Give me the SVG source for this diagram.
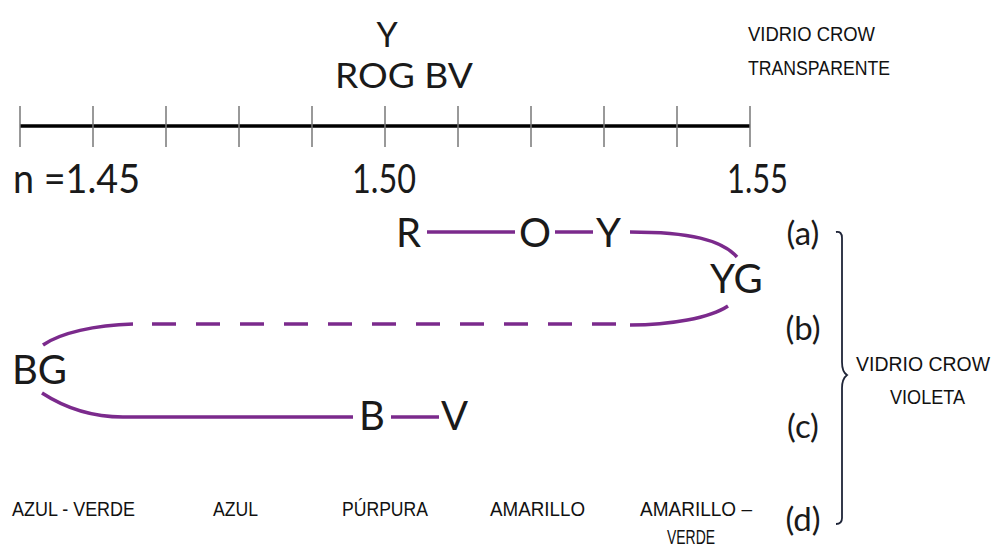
<svg xmlns="http://www.w3.org/2000/svg" width="992" height="548" viewBox="0 0 992 548">
<style>
.g{font-family:Lato,"Open Sans","DejaVu Sans",sans-serif;fill:#1a1a1a}
.c{font-family:"Liberation Sans",Arial,sans-serif;fill:#111;font-size:20px}
.tick{stroke:#777;stroke-width:1.5}
.conn{stroke:#7b2a8c;stroke-width:3.5;fill:none}
.br{stroke:#1f2538;stroke-width:1.8;fill:none}
</style>
<rect width="992" height="548" fill="#fff"/>
<g id="axis">
<line x1="20" y1="126" x2="750" y2="126" stroke="#000" stroke-width="3.5"/>
<g class="tick">
<line x1="20" y1="106" x2="20" y2="147"/><line x1="93" y1="106" x2="93" y2="147"/>
<line x1="166" y1="106" x2="166" y2="147"/><line x1="239" y1="106" x2="239" y2="147"/>
<line x1="312" y1="106" x2="312" y2="147"/><line x1="385" y1="106" x2="385" y2="147"/>
<line x1="458" y1="106" x2="458" y2="147"/><line x1="531" y1="106" x2="531" y2="147"/>
<line x1="604" y1="106" x2="604" y2="147"/><line x1="677" y1="106" x2="677" y2="147"/>
<line x1="750" y1="106" x2="750" y2="147"/>
</g>
<text class="g" x="13" y="193" font-size="40" textLength="127" lengthAdjust="spacingAndGlyphs">n =1.45</text>
<text class="g" x="352" y="193" font-size="40" textLength="64" lengthAdjust="spacingAndGlyphs">1.50</text>
<text class="g" x="727" y="193" font-size="40" textLength="61" lengthAdjust="spacingAndGlyphs">1.55</text>
<text class="g" x="387" y="47" font-size="34" text-anchor="middle">Y</text>
<text class="g" x="335" y="88" font-size="34" textLength="138" lengthAdjust="spacingAndGlyphs">ROG BV</text>
</g>
<g id="title-transparente">
<text class="c" x="748" y="41" textLength="127" lengthAdjust="spacingAndGlyphs">VIDRIO CROW</text>
<text class="c" x="748" y="75" textLength="142" lengthAdjust="spacingAndGlyphs">TRANSPARENTE</text>
</g>
<g id="connectors">
<line class="conn" x1="427" y1="232" x2="515" y2="232"/>
<line class="conn" x1="555" y1="232" x2="593" y2="232"/>
<path class="conn" d="M630,232 C690,232 722,240 737,257"/>
<path class="conn" d="M728,306 C710,318 670,325 630,325"/>
<line class="conn" x1="152" y1="324" x2="620" y2="324" stroke-dasharray="24 20"/>
<path class="conn" d="M133,324 C95,325 60,333 43,345"/>
<path class="conn" d="M42,393 C62,406 90,417 123,417 L353,417"/>
<line class="conn" x1="391" y1="417" x2="439" y2="417"/>
</g>
<g id="node-R"><text class="g" x="396" y="247" font-size="40">R</text></g>
<g id="node-O"><text class="g" x="519" y="247" font-size="40">O</text></g>
<g id="node-Y"><text class="g" x="596" y="247" font-size="40">Y</text></g>
<g id="node-YG"><text class="g" x="710" y="293" font-size="40">YG</text></g>
<g id="node-BG"><text class="g" x="12" y="384" font-size="40">BG</text></g>
<g id="node-B"><text class="g" x="359" y="430" font-size="40">B</text></g>
<g id="node-V"><text class="g" x="441" y="430" font-size="40">V</text></g>
<g id="labels-abcd">
<text class="g" x="803" y="245" font-size="33" text-anchor="middle">(a)</text>
<text class="g" x="803" y="340" font-size="33" text-anchor="middle">(b)</text>
<text class="g" x="803" y="438" font-size="33" text-anchor="middle">(c)</text>
<text class="g" x="803" y="531" font-size="33" text-anchor="middle">(d)</text>
</g>
<g id="bracket">
<path class="br" d="M836,232 Q842,231 842,238 L842,362 Q842,372 847,375 Q842,379 842,388 L842,518 Q842,524 836,524"/>
</g>
<g id="title-violeta">
<text class="c" x="856" y="371" textLength="134" lengthAdjust="spacingAndGlyphs">VIDRIO CROW</text>
<text class="c" x="890" y="404" textLength="75" lengthAdjust="spacingAndGlyphs">VIOLETA</text>
</g>
<g id="bottom-labels">
<text class="c" x="12" y="516" textLength="123" lengthAdjust="spacingAndGlyphs">AZUL - VERDE</text>
<text class="c" x="213" y="516" textLength="45" lengthAdjust="spacingAndGlyphs">AZUL</text>
<text class="c" x="342" y="516" textLength="86" lengthAdjust="spacingAndGlyphs">PÚRPURA</text>
<text class="c" x="490" y="516" textLength="95" lengthAdjust="spacingAndGlyphs">AMARILLO</text>
<text class="c" x="640" y="516" textLength="112" lengthAdjust="spacingAndGlyphs">AMARILLO –</text>
<text class="c" x="667" y="544" textLength="48" lengthAdjust="spacingAndGlyphs">VERDE</text>
</g>
</svg>
